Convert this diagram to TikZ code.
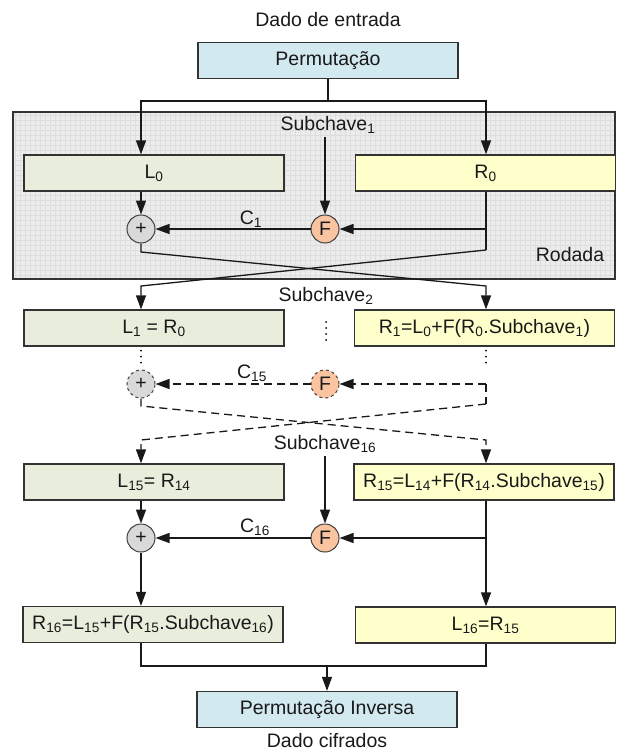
\documentclass[tikz,border=0pt]{standalone}
\usepackage{fontspec}
\setmainfont{Liberation Sans}
\usetikzlibrary{arrows.meta}
\definecolor{permblue}{RGB}{210,233,239}
\definecolor{leftgreen}{RGB}{233,238,220}
\definecolor{rightyellow}{RGB}{255,255,204}
\definecolor{fcolor}{RGB}{250,196,160}
\definecolor{xorgray}{RGB}{217,217,217}
\definecolor{roundgray}{RGB}{236,236,236}
\definecolor{gridgray}{RGB}{222,222,222}
\newcommand{\sbs}[1]{\textsubscript{#1}}
\tikzset{
  box/.style={draw=black!80, line width=1.3pt, minimum width=260pt, minimum height=36pt, inner sep=0pt},
  permbox/.style={box, fill=permblue},
  lbox/.style={box, fill=leftgreen},
  rbox/.style={box, fill=rightyellow},
  fnode/.style={circle, draw=black!75, line width=1pt, fill=fcolor, minimum size=28pt, inner sep=0pt},
  xnode/.style={circle, draw=black!75, line width=1pt, fill=xorgray, minimum size=28pt, inner sep=0pt},
  flow/.style={line width=1.3pt, draw=black!90},
  arr/.style={flow, -{Triangle[length=14pt,width=10pt]}},
  dashflow/.style={flow, dash pattern=on 8pt off 5pt},
  dasharr/.style={arr, dash pattern=on 8pt off 5pt},
  dotline/.style={line width=2pt, line cap=round, dash pattern=on 0pt off 6pt},
  gridline/.style={draw=gridgray, line width=0.4pt}
}
\begin{document}
\begin{tikzpicture}[x=1pt,y=-1pt,font=\fontsize{19.5}{23}\selectfont,text=black!90]
\useasboundingbox (0,0) rectangle (616,752);
\fill[roundgray] (13,112) rectangle (615,279);
\draw[gridline] (13,279) grid[step=5pt] (615,112);
\draw[line width=1.3pt, draw=black!80] (13,112) rectangle (615,279);
\node (rodada) at (570,255) {Rodada};
\node (input) at (328,20) {Dado de entrada};
\node[permbox] (perm) at (328,60.5) {Permutação};
\node (sk1) at (328,125) {Subchave\sbs{1}};
\node[lbox] (l0) at (154,173) {L\sbs{0}};
\node[rbox] (r0) at (485.5,173) {R\sbs{0}};
\node[xnode] (x1) at (141,229) {+};
\node[fnode] (f1) at (325,229) {F};
\node[anchor=base] (c1) at (251,224) {C\sbs{1}};
\node (sk2) at (326,296) {Subchave\sbs{2}};
\node[lbox] (l1) at (154,328) {L\sbs{1} = R\sbs{0}};
\node[rbox] (r1) at (484.5,328) {R\sbs{1}=L\sbs{0}+F(R\sbs{0}.Subchave\sbs{1})};
\node[xnode, dashed] (x2) at (141,384) {+};
\node[fnode, dashed] (f2) at (325,384) {F};
\node[anchor=base] (c15) at (252,378) {C\sbs{15}};
\node (sk16) at (325,444) {Subchave\sbs{16}};
\node[lbox] (l15) at (154,482) {L\sbs{15}= R\sbs{14}};
\node[rbox] (r15) at (484,482) {R\sbs{15}=L\sbs{14}+F(R\sbs{14}.Subchave\sbs{15})};
\node[xnode] (x3) at (141,538) {+};
\node[fnode] (f3) at (325,538) {F};
\node[anchor=base] (c16) at (255,532) {C\sbs{16}};
\node[lbox] (r16) at (153,624.5) {R\sbs{16}=L\sbs{15}+F(R\sbs{15}.Subchave\sbs{16})};
\node[rbox] (l16) at (485.5,625) {L\sbs{16}=R\sbs{15}};
\node[permbox] (permi) at (327,709.5) {Permutação Inversa};
\node (output) at (327,741) {Dado cifrados};
\coordinate (topl) at (141,101);
\coordinate (topr) at (486,101);
\coordinate (r0turn) at (486,250);
\coordinate (x1turn) at (141,252);
\coordinate (crossl) at (141,286);
\coordinate (crossr) at (486,286);
\coordinate (r1turn) at (486,404);
\coordinate (x2turn) at (141,406);
\coordinate (crossl2) at (141,440);
\coordinate (crossr2) at (486,440);
\coordinate (r15turn) at (486,538);
\coordinate (botl) at (141,666);
\coordinate (botr) at (486,666);
\draw[arr] (perm.south) |- (topl) -- (topl |- l0.north);
\draw[arr] (perm.south) |- (topr) -- (topr |- r0.north);
\draw[arr] (sk1.south -| f1) -- (f1.north);
\draw[arr] (l0.south -| x1) -- (x1.north);
\draw[flow] (r0.south -| r0turn) -- (r0turn);
\draw[arr] (r0turn |- f1) -- (f1.east);
\draw[arr] (f1.west) -- (x1.east);
\draw[arr] (x1.south) -- (x1turn) -- (crossr) -- (crossr |- r1.north);
\draw[arr] (r0turn) -- (crossl) -- (crossl |- l1.north);
\draw[dotline] (326,322) -- (326,341);
\draw[dotline, shorten <=4pt, shorten >=2pt] (l1.south -| x2) -- (x2.north);
\draw[dotline, shorten <=4pt, shorten >=16pt] (r1.south -| r1turn) -- (r1turn |- f2);
\draw[dasharr] (r1turn |- f2) -- (f2.east);
\draw[dasharr] (f2.west) -- (x2.east);
\draw[dashflow] (r1turn |- f2) -- (r1turn);
\draw[dasharr] (x2.south) -- (x2turn) -- (crossr2) -- (crossr2 |- r15.north);
\draw[dasharr] (r1turn) -- (crossl2) -- (crossl2 |- l15.north);
\draw[arr] (sk16.south -| f3) -- (f3.north);
\draw[arr] (l15.south -| x3) -- (x3.north);
\draw[arr] (r15.south -| r15turn) -- (l16.north -| r15turn);
\draw[arr] (r15turn) -- (f3.east);
\draw[arr] (f3.west) -- (x3.east);
\draw[arr] (x3.south) -- (r16.north -| x3);
\draw[flow] (r16.south -| botl) -- (botl) -- (botr) -- (l16.south -| botr);
\draw[arr] (botl -| permi) -- (permi.north);
\end{tikzpicture}
\end{document}
